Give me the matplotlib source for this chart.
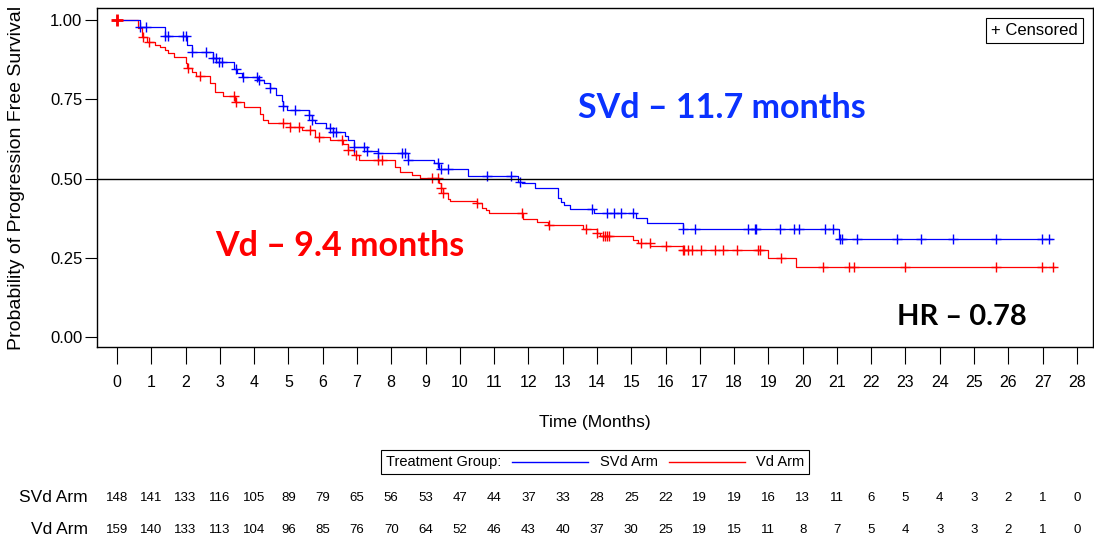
import numpy as np
import matplotlib
matplotlib.use('Agg')
from matplotlib import pyplot as plt
from matplotlib.lines import Line2D
from matplotlib.offsetbox import (AnchoredOffsetbox, AnchoredText, DrawingArea,
                                  HPacker, TextArea)

# Kaplan-Meier step data
svd_t = [0, 0.67, 1.4, 2.05, 2.2, 2.8, 2.9, 3.4, 3.5, 3.65, 4.1, 4.3, 4.45, 4.65,
         4.8, 4.85, 4.95, 5.6, 5.7, 5.78, 6.1, 6.3, 6.65, 6.75, 6.9, 7.3, 7.6,
         8.5, 9.25, 9.4, 10.25, 11.7, 11.8, 12.2, 12.85, 12.95, 13.05, 13.2,
         13.9, 15.15, 15.45, 16.5, 21.05]
svd_s = [1.0, 0.978, 0.95, 0.92, 0.90, 0.88, 0.868, 0.845, 0.833, 0.82, 0.81,
         0.80, 0.785, 0.765, 0.745, 0.73, 0.716, 0.70, 0.685, 0.675, 0.66, 0.647,
         0.635, 0.62, 0.60, 0.587, 0.58, 0.56, 0.549, 0.53, 0.508, 0.49, 0.485,
         0.47, 0.44, 0.426, 0.416, 0.404, 0.39, 0.374, 0.36, 0.34, 0.31]
svd_end = 27.27
svd_cens = [0, 0.67, 0.85, 1.4, 1.48, 1.93, 2.0, 2.2, 2.6, 2.8, 2.88, 2.97, 3.05,
            3.47, 3.67, 4.08, 4.14, 4.46, 4.85, 5.2, 5.6, 5.7, 6.2, 6.3, 6.4, 6.9,
            7.2, 7.3, 7.6, 8.3, 8.4, 8.5, 9.36, 9.45, 9.65, 10.8, 11.5, 11.75,
            13.85, 14.3, 14.5, 14.7, 15.05, 16.5, 16.85, 18.4, 18.6, 18.65, 19.35,
            19.75, 19.9, 20.65, 20.9, 21.08, 21.15, 21.6, 22.75, 23.45, 24.4,
            25.65, 26.97, 27.2]

vd_t = [0, 0.6, 0.72, 0.87, 1.1, 1.25, 1.4, 1.5, 1.65, 2.0, 2.05, 2.2, 2.3, 2.7,
        2.85, 3.1, 3.45, 3.7, 4.17, 4.27, 4.4, 5.05, 5.4, 5.78, 6.2, 6.6, 6.75,
        6.9, 7.05, 8.1, 8.25, 8.6, 8.85, 9.4, 9.45, 9.5, 9.65, 9.7, 10.5, 10.65,
        10.75, 10.85, 11.85, 12.25, 12.57, 13.6, 14.0, 14.1, 15.05, 15.2, 15.55,
        16.5, 19.0, 19.8]
vd_s = [1.0, 0.975, 0.946, 0.93, 0.92, 0.915, 0.905, 0.895, 0.883, 0.864, 0.85,
        0.836, 0.823, 0.80, 0.773, 0.76, 0.74, 0.726, 0.705, 0.685, 0.675, 0.663,
        0.653, 0.63, 0.62, 0.61, 0.59, 0.574, 0.558, 0.536, 0.52, 0.51, 0.502,
        0.486, 0.47, 0.454, 0.435, 0.43, 0.423, 0.407, 0.40, 0.39, 0.372, 0.363,
        0.353, 0.34, 0.328, 0.318, 0.306, 0.297, 0.287, 0.274, 0.25, 0.22]
vd_end = 27.35
vd_cens = [0, 0.77, 0.94, 2.08, 2.42, 3.4, 3.47, 4.85, 5.05, 5.3, 5.63, 5.9, 6.55,
           6.75, 6.97, 7.62, 7.73, 9.18, 9.36, 9.45, 9.5, 10.5, 11.8, 12.6, 13.67,
           14.0, 14.17, 14.23, 14.29, 14.35, 15.28, 15.54, 16.0, 16.5, 16.55,
           16.65, 16.77, 17.05, 17.44, 17.67, 18.08, 18.7, 18.76, 19.37, 20.6,
           21.35, 21.5, 23.0, 25.63, 26.97, 27.3]

months = list(range(0, 29))
svd_risk = [148, 141, 133, 116, 105, 89, 79, 65, 56, 53, 47, 44, 37, 33, 28, 25,
            22, 19, 19, 16, 13, 11, 6, 5, 4, 3, 2, 1, 0]
vd_risk = [159, 140, 133, 113, 104, 96, 85, 76, 70, 64, 52, 46, 43, 40, 37, 30,
           25, 19, 15, 11, 8, 7, 5, 4, 3, 3, 2, 1, 0]

BLUE = '#0000ff'
RED = '#ff0000'
plt.rcParams['font.family'] = ['Liberation Sans', 'DejaVu Sans']


def km_at(t, s, x):
    idx = np.searchsorted(t, x, side='right') - 1
    return np.array(s)[idx]


fig = plt.figure(figsize=(10.94, 5.46), dpi=100)
ax = fig.add_axes([97 / 1094, 1 - 347 / 546, 996 / 1094, 339 / 546])

for t, s, end, cens, col in [(vd_t, vd_s, vd_end, vd_cens, RED),
                             (svd_t, svd_s, svd_end, svd_cens, BLUE)]:
    ax.plot(t + [end], s + [s[-1]], drawstyle='steps-post', color=col, lw=0.9)
    ax.plot(cens, km_at(t, s, cens), ls='none', marker='+', ms=7, mew=1.0,
            color=col)
ax.plot([0], [1.0], ls='none', marker='+', ms=9, mew=2, color=RED)

ax.axhline(0.5, color='black', lw=1)

ax.set_xlim(-0.583, 28.47)
ax.set_ylim(-0.0315, 1.038)
ax.set_xticks(months)
ax.set_xticklabels([str(m) for m in months], fontsize=11.5)
ax.set_yticks([0, 0.25, 0.5, 0.75, 1.0])
ax.set_yticklabels(['0.00', '0.25', '0.50', '0.75', '1.00'], fontsize=12)
ax.tick_params(axis='x', direction='out', length=12, pad=8, width=0.8)
ax.tick_params(axis='y', direction='out', length=9, pad=1.5, width=0.8)
for sp in ax.spines.values():
    sp.set_linewidth(1)

ax.set_ylabel('Probability of Progression Free Survival', fontsize=14)
ax.yaxis.set_label_coords(-0.072, 0.5)
ax.set_xlabel('Time (Months)', fontsize=12.5)
ax.xaxis.set_label_coords(0.5, -0.2)

# annotations
big = dict(family=['Lato', 'DejaVu Sans'], fontweight='bold',
           ha='center', va='center')
ax.text(17.64, 0.722, 'SVd \u2013 11.7 months', color='#0a32ff', fontsize=24.5,
        **big)
ax.text(6.5, 0.287, 'Vd \u2013 9.4 months', color=RED, fontsize=24.5, **big)
ax.text(24.64, 0.063, 'HR \u2013 0.78', color='black', fontsize=21, **big)

cens_box = AnchoredText('+ Censored', loc='upper right', prop=dict(size=12),
                        frameon=True, borderpad=0.6, pad=0.3)
cens_box.patch.set_linewidth(0.8)
ax.add_artist(cens_box)


# treatment group legend
def line_box(col):
    da = DrawingArea(55, 10, 0, 0)
    da.add_artist(Line2D([0, 55], [5, 5], color=col, lw=1))
    return da


tp = dict(size=10.5)
pack = HPacker(children=[TextArea('Treatment Group:', textprops=tp),
                         line_box(BLUE), TextArea('SVd Arm', textprops=tp),
                         line_box(RED), TextArea('Vd Arm', textprops=tp)],
               align='center', pad=0, sep=8)
leg = AnchoredOffsetbox(loc='center', child=pack, pad=0.35, frameon=True,
                        bbox_to_anchor=(0.5, (347 - 462) / 339),
                        bbox_transform=ax.transAxes, borderpad=0)
leg.patch.set_linewidth(0.8)
ax.add_artist(leg)

# number at risk
tr = ax.get_xaxis_transform()
for row, lab, vals in [((347 - 498) / 339, 'SVd Arm', svd_risk),
                       ((347 - 530) / 339, 'Vd Arm', vd_risk)]:
    ax.text(-0.85, row, lab, transform=tr, ha='right', va='center',
            fontsize=12.5, clip_on=False)
    for m, v in zip(months, vals):
        ax.text(m, row, str(v), transform=tr, ha='center', va='center',
                fontsize=9.5, clip_on=False)

fig.savefig('out.png', dpi=100)
